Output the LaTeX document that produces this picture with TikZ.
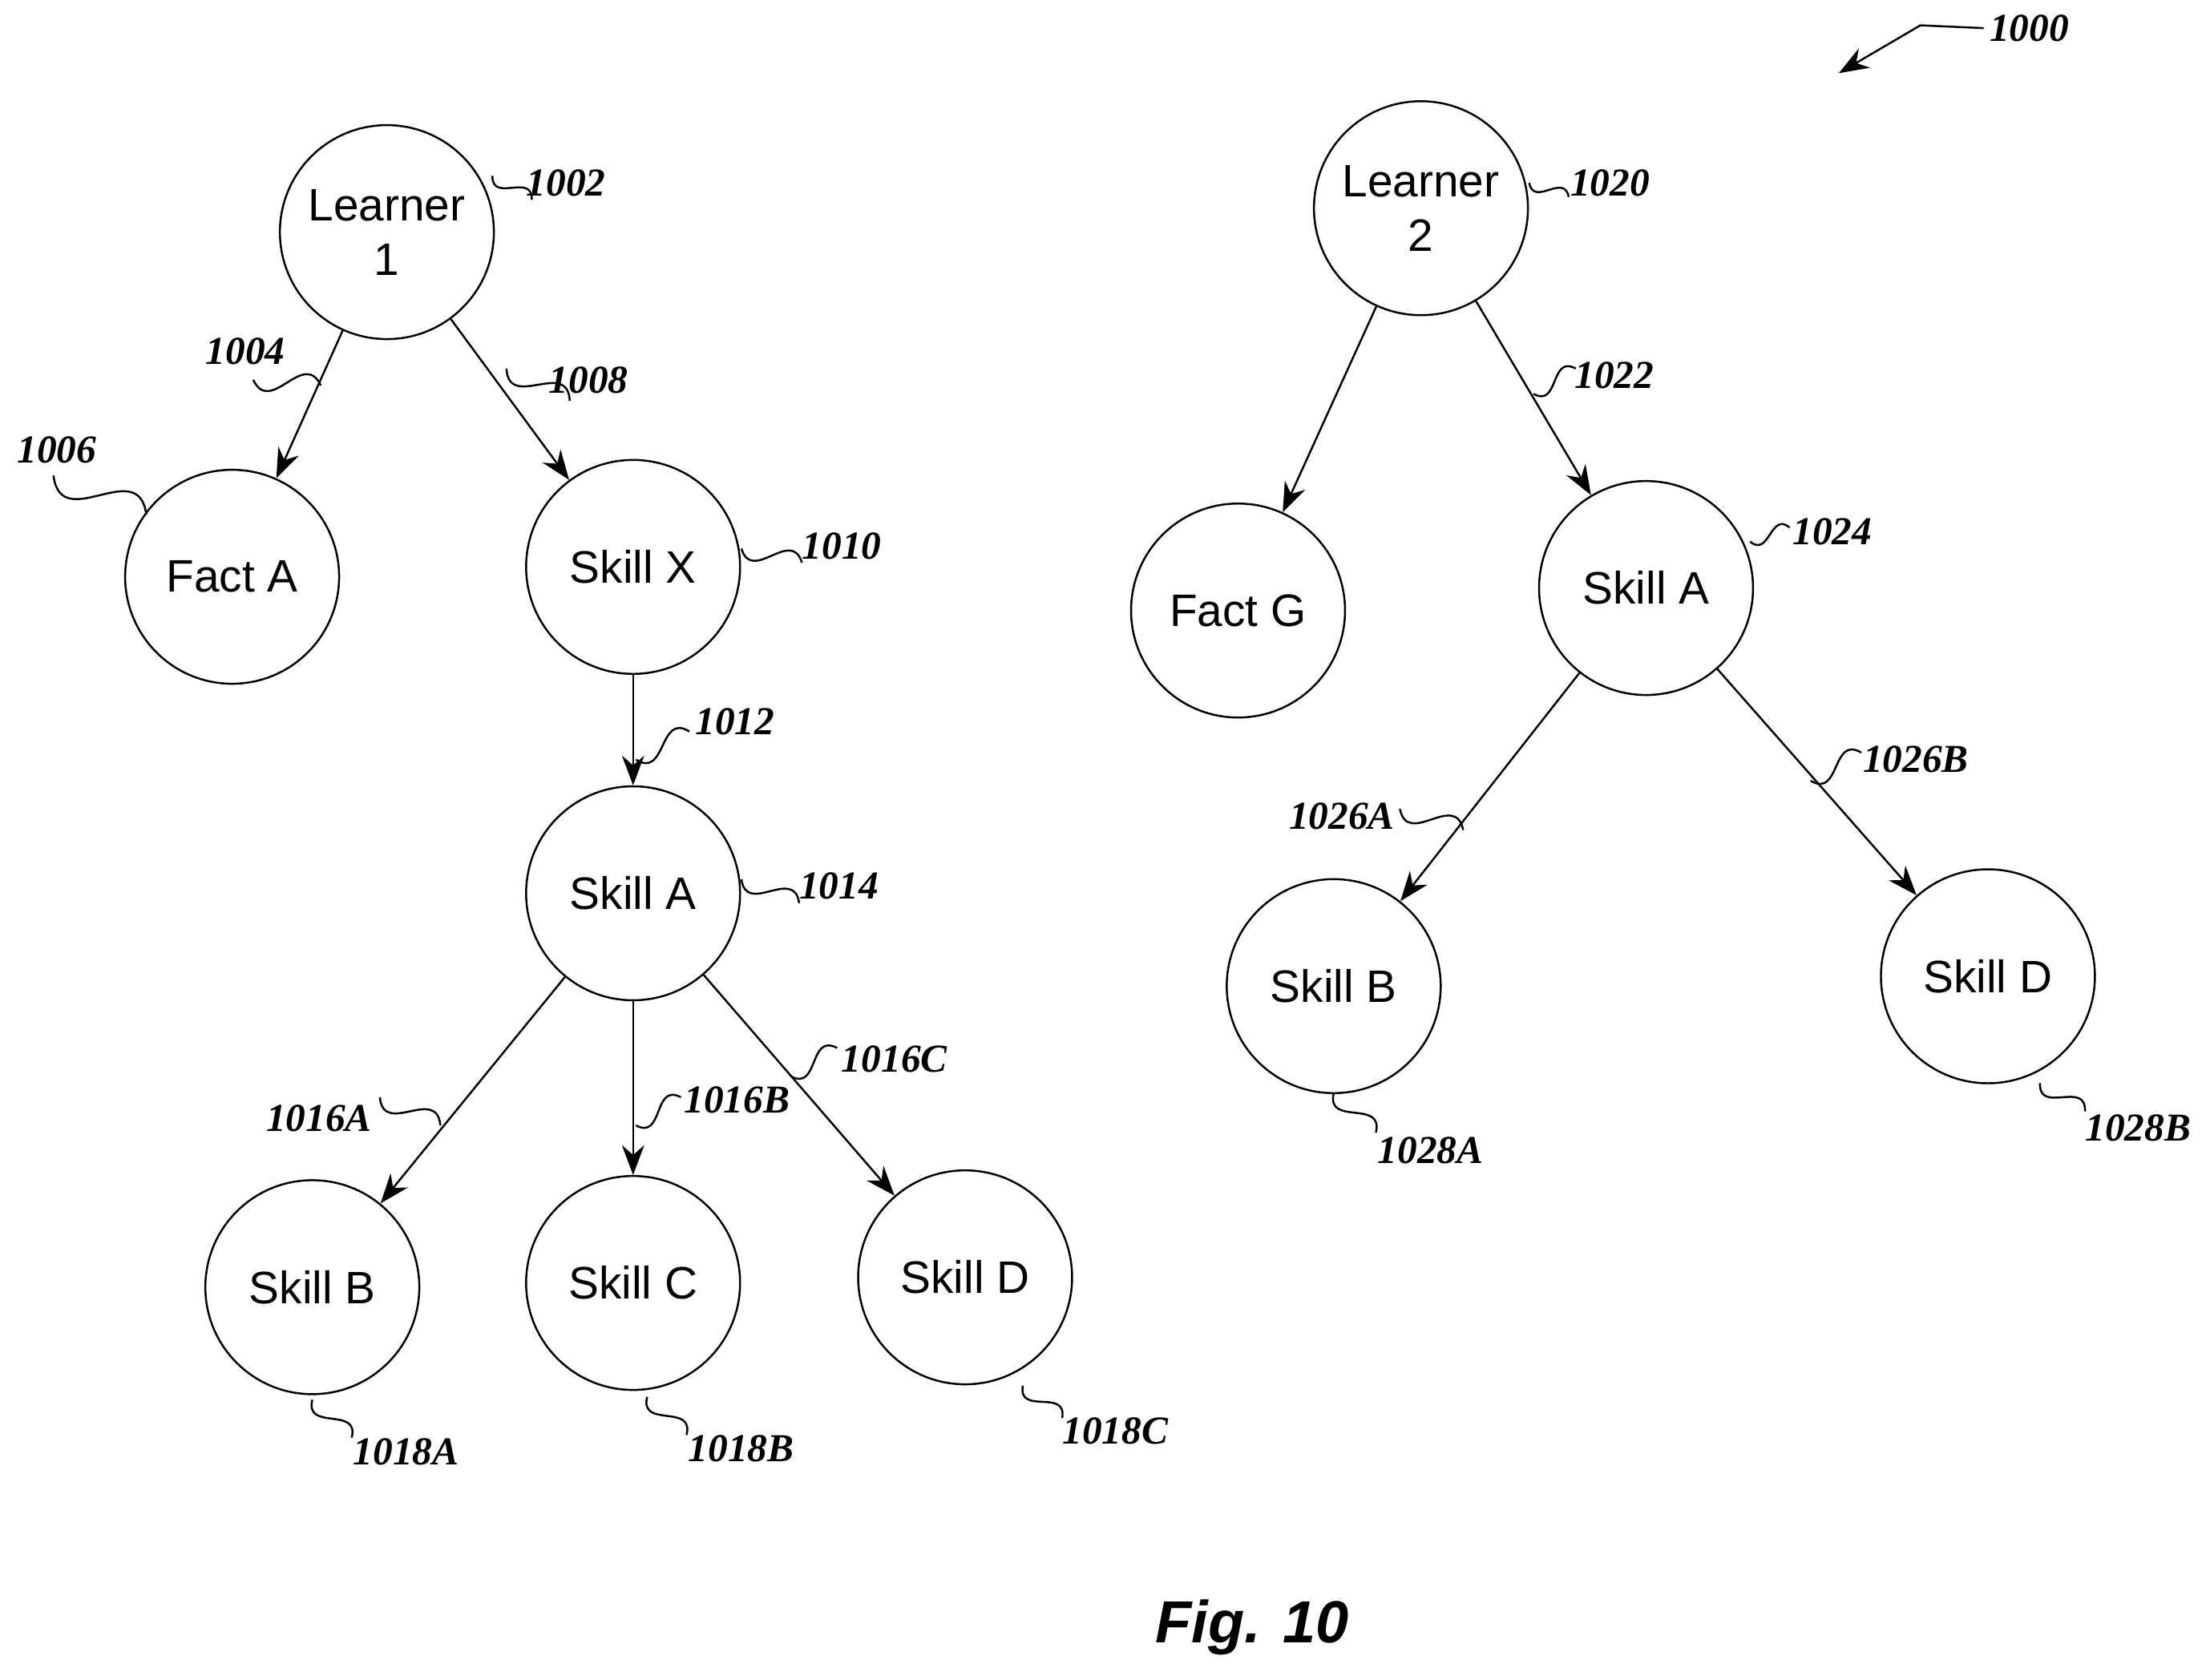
\documentclass[tikz,border=0pt]{standalone}
\usepackage{fontspec}
\setmainfont{Liberation Serif}
\setsansfont{Liberation Sans}
\usetikzlibrary{calc,arrows.meta}
\begin{document}
\begin{tikzpicture}[x=0.01cm, y=-0.01cm,
    state/.style={circle, draw, minimum size=1.52cm, inner sep=0pt, align=center,
                  font=\sffamily\fontsize{9.2}{11}\selectfont},
    link/.style={-{Stealth[length=6pt,width=4.5pt]}, thin},
    num/.style={font=\rmfamily\bfseries\itshape\fontsize{8}{9}\selectfont, anchor=west, inner sep=1pt}]
  \useasboundingbox (0,0) rectangle (1568,1194);
  % learner 1
  \node[state] (l1) at (275,165) {Learner\\1};
  \node[state] (fa) at (165,410) {Fact A};
  \node[state] (sx) at (450,403) {Skill X};
  \node[state] (sa) at (450,635) {Skill A};
  \node[state] (sb) at (222,915) {Skill B};
  \node[state] (sc) at (450,912) {Skill C};
  \node[state] (sd) at (686,908) {Skill D};
  \draw[link] (l1) -- (fa);
  \draw[link] (l1) -- (sx);
  \draw[link] (sx) -- (sa);
  \draw[link] (sa) -- (sb);
  \draw[link] (sa) -- (sc);
  \draw[link] (sa) -- (sd);
  % learner 2
  \node[state] (l2) at (1010,148) {Learner\\2};
  \node[state] (fg) at (880,434) {Fact G};
  \node[state] (ta) at (1170,418) {Skill A};
  \node[state] (tb) at (948,701) {Skill B};
  \node[state] (td) at (1413,694) {Skill D};
  \draw[link] (l2) -- (fg);
  \draw[link] (l2) -- (ta);
  \draw[link] (ta) -- (tb);
  \draw[link] (ta) -- (td);
  % reference numerals
  \foreach \px/\py/\qx/\qy/\lx/\ly/\t in {
      350/125/378/142/370/130/1002,
      180/270/228/274/142/250/1004,
      38/338/104/366/8/320/1006,
      360/262/405/285/386/270/1008,
      527/390/570/400/566/388/1010,
      452/540/490/520/490/513/1012,
      527/625/568/642/564/630/1014,
      270/780/313/800/185/795/1016A,
      452/800/484/780/482/782/1016B,
      562/765/595/745/594/753/1016C,
      222/995/250/1022/247/1032/1018A,
      460/993/488/1020/485/1030/1018B,
      727/985/755/1008/751/1017/1018C,
      1087/130/1115/140/1112/130/1020,
      1090/280/1120/262/1115/267/1022,
      1244/385/1272/375/1270/378/1024,
      995/575/1040/590/912/580/1026A,
      1287/555/1323/535/1320/540/1026B,
      948/777/978/805/975/818/1028A,
      1450/770/1482/790/1478/802/1028B}
    {
      \coordinate (p) at (\px,\py);
      \coordinate (q) at (\qx,\qy);
      \draw[thin] (p) .. controls ($(p)!0.6!-60:(q)$) and ($(q)!0.6!-60:(p)$) .. (q);
      \node[num] at (\lx,\ly) {\t};
    }
  \coordinate (fig) at (1365,18);
  \node[num] (n1000) at (1410,20) {1000};
  \draw[link] (n1000.west) -- (fig) -- (1307,52);
  \node[font=\sffamily\bfseries\itshape\fontsize{12}{14}\selectfont] (cap) at (890,1157) {Fig. 10};
\end{tikzpicture}
\end{document}
